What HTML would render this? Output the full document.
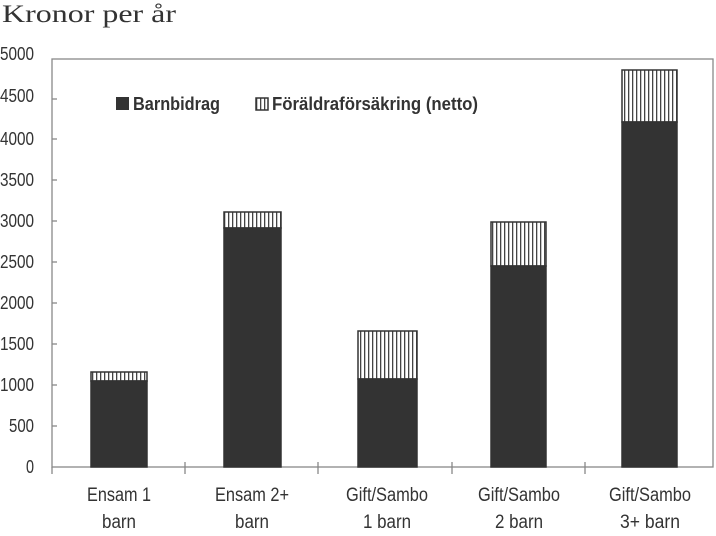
<!DOCTYPE html>
<html><head><meta charset="utf-8"><style>
body{margin:0;background:#fff}
svg text{font-family:"Liberation Sans",sans-serif;fill:#333}
</style></head><body>
<svg width="716" height="531" viewBox="0 0 716 531" xmlns="http://www.w3.org/2000/svg">
<defs>
<pattern id="h" width="4" height="10" patternUnits="userSpaceOnUse">
<rect width="4" height="10" fill="#fff"/><rect x="0" width="1.3" height="10" fill="#444"/>
</pattern>
</defs>
<text x="2" y="22" style="font-family:'Liberation Serif',serif;font-size:25px" fill="#333" textLength="174" lengthAdjust="spacingAndGlyphs">Kronor per år</text>
<rect x="52" y="59" width="661" height="408" fill="none" stroke="#888" stroke-width="1.3"/>
<g font-size="18">
<text x="0" y="60" textLength="34" lengthAdjust="spacingAndGlyphs">5000</text>
<text x="0" y="102" textLength="34" lengthAdjust="spacingAndGlyphs">4500</text>
<text x="0" y="145" textLength="34" lengthAdjust="spacingAndGlyphs">4000</text>
<text x="0" y="186" textLength="34" lengthAdjust="spacingAndGlyphs">3500</text>
<text x="0" y="227" textLength="34" lengthAdjust="spacingAndGlyphs">3000</text>
<text x="0" y="268" textLength="34" lengthAdjust="spacingAndGlyphs">2500</text>
<text x="0" y="309" textLength="34" lengthAdjust="spacingAndGlyphs">2000</text>
<text x="0" y="350" textLength="34" lengthAdjust="spacingAndGlyphs">1500</text>
<text x="0" y="391" textLength="34" lengthAdjust="spacingAndGlyphs">1000</text>
<text x="9" y="432" textLength="25" lengthAdjust="spacingAndGlyphs">500</text>
<text x="26" y="473" textLength="8" lengthAdjust="spacingAndGlyphs">0</text>
</g>
<g stroke="#888" stroke-width="1.3">
<line x1="52" y1="99" x2="57" y2="99"/><line x1="52" y1="139" x2="57" y2="139"/><line x1="52" y1="180" x2="57" y2="180"/>
<line x1="52" y1="221" x2="57" y2="221"/><line x1="52" y1="262" x2="57" y2="262"/><line x1="52" y1="303" x2="57" y2="303"/>
<line x1="52" y1="344" x2="57" y2="344"/><line x1="52" y1="385" x2="57" y2="385"/><line x1="52" y1="426" x2="57" y2="426"/>
<line x1="52" y1="467" x2="52" y2="474"/><line x1="185" y1="462" x2="185" y2="474"/><line x1="318" y1="462" x2="318" y2="474"/>
<line x1="452" y1="462" x2="452" y2="474"/><line x1="585" y1="462" x2="585" y2="474"/>
</g>
<g stroke="#333" stroke-width="1.5">
<rect x="91" y="372" width="56" height="9" fill="url(#h)"/>
<rect x="91" y="381" width="56" height="86" fill="#333"/>
<rect x="224" y="212" width="57" height="16" fill="url(#h)"/>
<rect x="224" y="228" width="57" height="239" fill="#333"/>
<rect x="358" y="331" width="59" height="48" fill="url(#h)"/>
<rect x="358" y="379" width="59" height="88" fill="#333"/>
<rect x="491" y="222" width="55" height="44" fill="url(#h)"/>
<rect x="491" y="266" width="55" height="201" fill="#333"/>
<rect x="622" y="70" width="55" height="52" fill="url(#h)"/>
<rect x="622" y="122" width="55" height="345" fill="#333"/>
</g>
<rect x="116" y="97" width="13" height="13" fill="#333"/>
<text x="133" y="110" font-size="18" font-weight="bold" textLength="87" lengthAdjust="spacingAndGlyphs">Barnbidrag</text>
<rect x="256" y="98" width="12" height="12" fill="url(#h)" stroke="#333" stroke-width="1.5"/>
<text x="272" y="110" font-size="18" font-weight="bold" textLength="206" lengthAdjust="spacingAndGlyphs">Föräldraförsäkring (netto)</text>
<g font-size="19" text-anchor="middle">
<text x="119" y="501" textLength="64" lengthAdjust="spacingAndGlyphs">Ensam 1</text>
<text x="119" y="528" textLength="34" lengthAdjust="spacingAndGlyphs">barn</text>
<text x="252" y="501" textLength="74" lengthAdjust="spacingAndGlyphs">Ensam 2+</text>
<text x="252" y="528" textLength="34" lengthAdjust="spacingAndGlyphs">barn</text>
<text x="387" y="501" textLength="82" lengthAdjust="spacingAndGlyphs">Gift/Sambo</text>
<text x="387" y="528" textLength="48" lengthAdjust="spacingAndGlyphs">1 barn</text>
<text x="519" y="501" textLength="82" lengthAdjust="spacingAndGlyphs">Gift/Sambo</text>
<text x="519" y="528" textLength="48" lengthAdjust="spacingAndGlyphs">2 barn</text>
<text x="650" y="501" textLength="82" lengthAdjust="spacingAndGlyphs">Gift/Sambo</text>
<text x="650" y="528" textLength="60" lengthAdjust="spacingAndGlyphs">3+ barn</text>
</g>
</svg>
</body></html>
